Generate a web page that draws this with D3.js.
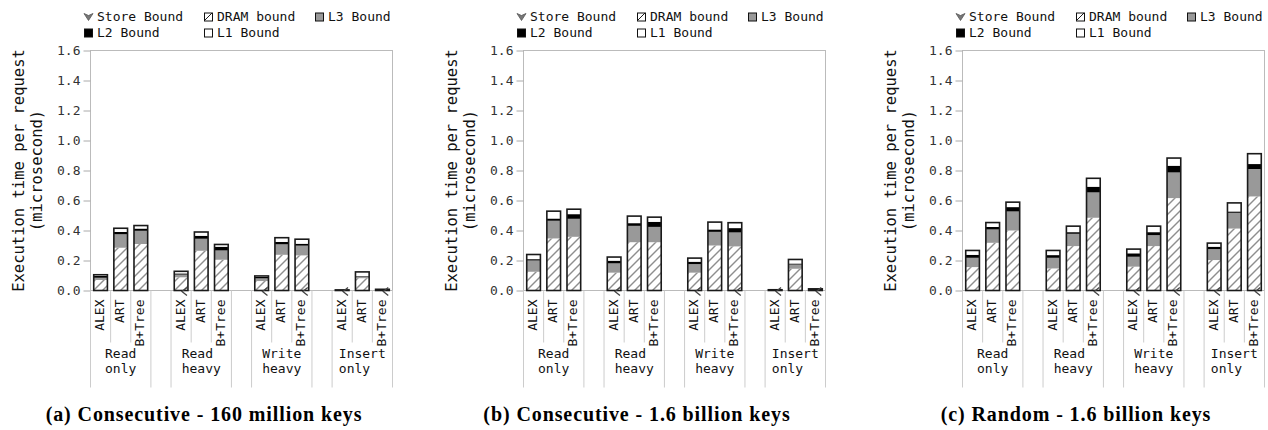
<!DOCTYPE html>
<html>
<head>
<meta charset="utf-8">
<script src="https://cdn.jsdelivr.net/npm/d3@7"></script>
<style>
  html, body { margin: 0; padding: 0; background: #fff; }
  svg { display: block; }
  .mono { font-family: "DejaVu Sans Mono", "Liberation Mono", monospace; }
</style>
</head>
<body>
<svg id="chart" width="1268" height="430"></svg>
<script>
// Workloads (x-axis groups) and index structures (bars in each group)
const workloads = [["Read", "only"], ["Read", "heavy"], ["Write", "heavy"], ["Insert", "only"]];
const indexes = ["ALEX", "ART", "B+Tree"];
const yTicks = [0, 0.2, 0.4, 0.6, 0.8, 1.0, 1.2, 1.4, 1.6];
const legendLabels = ["Store Bound", "DRAM bound", "L3 Bound", "L2 Bound", "L1 Bound"];
const captions = [
  "(a) Consecutive - 160 million keys",
  "(b) Consecutive - 1.6 billion keys",
  "(c) Random - 1.6 billion keys"
];

// Execution time breakdown (microseconds), order: workload x index
// (a) Consecutive - 160 million keys
const storeA = [0, 0, 0, 0.003, 0, 0, 0.003, 0, 0.003, 0.003, 0, 0.003];
const dramA  = [0.070, 0.285, 0.310, 0.085, 0.265, 0.205, 0.060, 0.238, 0.231, 0.000, 0.082, 0.000];
const l3A    = [0.015, 0.090, 0.088, 0.018, 0.080, 0.062, 0.018, 0.070, 0.065, 0.000, 0.010, 0.001];
const l2A    = [0.012, 0.015, 0.015, 0.008, 0.020, 0.025, 0.010, 0.016, 0.013, 0.000, 0.004, 0.004];
const l1A    = [0.008, 0.025, 0.020, 0.014, 0.025, 0.015, 0.006, 0.028, 0.030, 0.001, 0.028, 0.000];
// (b) Consecutive - 1.6 billion keys
const storeB = [0, 0, 0, 0.003, 0, 0, 0.003, 0, 0.003, 0.003, 0, 0.003];
const dramB  = [0.125, 0.347, 0.358, 0.116, 0.322, 0.322, 0.116, 0.300, 0.291, 0.000, 0.145, 0.000];
const l3B    = [0.075, 0.118, 0.120, 0.062, 0.109, 0.102, 0.057, 0.091, 0.093, 0.000, 0.028, 0.002];
const l2B    = [0.009, 0.015, 0.031, 0.018, 0.018, 0.034, 0.016, 0.016, 0.029, 0.000, 0.007, 0.006];
const l1B    = [0.031, 0.049, 0.033, 0.024, 0.047, 0.031, 0.024, 0.049, 0.036, 0.002, 0.027, 0.000];
// (c) Random - 1.6 billion keys
const storeC = [0, 0, 0, 0, 0, 0.003, 0.003, 0, 0.003, 0.003, 0, 0.003];
const dramC  = [0.156, 0.318, 0.400, 0.147, 0.296, 0.482, 0.156, 0.296, 0.613, 0.200, 0.413, 0.624];
const l3C    = [0.062, 0.089, 0.127, 0.071, 0.082, 0.169, 0.066, 0.073, 0.171, 0.073, 0.105, 0.183];
const l2C    = [0.020, 0.017, 0.029, 0.018, 0.011, 0.038, 0.023, 0.020, 0.045, 0.016, 0.009, 0.033];
const l1C    = [0.029, 0.029, 0.033, 0.031, 0.040, 0.056, 0.028, 0.040, 0.051, 0.024, 0.057, 0.069];

const panels = [
  { left: 90,  caption: captions[0], store: storeA, dram: dramA, l3: l3A, l2: l2A, l1: l1A },
  { left: 523, caption: captions[1], store: storeB, dram: dramB, l3: l3B, l2: l2B, l1: l1B },
  { left: 962, caption: captions[2], store: storeC, dram: dramC, l3: l3C, l2: l2C, l1: l1C }
];

const keys = ["store", "dram", "l3", "l2", "l1"];
const fills = { store: "#888", dram: "url(#hatch)", l3: "#999", l2: "#000", l1: "#fff" };

const W = 302, H = 240, TOP = 50.5;
const FS = 13, CHAR_W = FS * 0.602;
const svg = d3.select("#chart");

// Diagonal hatching for the DRAM segment
const defs = svg.append("defs");
const pat = defs.append("pattern").attr("id", "hatch")
  .attr("patternUnits", "userSpaceOnUse").attr("width", 9).attr("height", 9);
pat.append("rect").attr("width", 9).attr("height", 9).attr("fill", "#fff");
pat.append("path").attr("d", "M-2,2 L2,-2 M0,9 L9,0 M7,11 L11,7")
  .attr("stroke", "#111").attr("stroke-width", 0.95);

// Slot domain: three bars per workload, one empty slot between workloads
const slots = [];
workloads.forEach((w, gi) => {
  indexes.forEach(ix => slots.push(gi + ":" + ix));
  if (gi < workloads.length - 1) slots.push("gap" + gi);
});

const x = d3.scaleBand().domain(slots).range([0, W]).paddingInner(0).paddingOuter(0);
const y = d3.scaleLinear().domain([0, 1.6]).range([H, 0]);
const barW = x.bandwidth() * 0.68;
const total = d => keys.reduce((a, k) => a + d[k], 0);

panels.forEach(p => {
  const g = svg.append("g").attr("transform", `translate(${p.left + 0.5},${TOP})`);

  // Legend
  const lg = svg.append("g").attr("class", "mono").attr("transform", `translate(${p.left},0)`);
  const legendPos = [
    { dx: -6, cy: 16.5 }, { dx: 114, cy: 16.5 }, { dx: 225, cy: 16.5 },
    { dx: -6, cy: 32.5 }, { dx: 114, cy: 32.5 }
  ];
  keys.forEach((k, i) => {
    const pos = legendPos[i];
    if (k === "store") {
      lg.append("path")
        .attr("d", `M${pos.dx},${pos.cy - 3} L${pos.dx + 4.5},${pos.cy - 1} L${pos.dx + 9},${pos.cy - 3} L${pos.dx + 4.5},${pos.cy + 4} Z`)
        .attr("fill", "#777").attr("stroke", "#555").attr("stroke-width", 0.8);
    } else {
      lg.append("rect").attr("x", pos.dx + 0.5).attr("y", pos.cy - 3.5)
        .attr("width", 8).attr("height", 8)
        .attr("fill", fills[k]).attr("stroke", "#111").attr("stroke-width", 1);
    }
    lg.append("text").attr("x", pos.dx + 13).attr("y", pos.cy + 4.5)
      .attr("font-size", FS).attr("fill", "#111").text(legendLabels[i]);
  });

  // Plot frame
  g.append("rect").attr("x", 0).attr("y", 0).attr("width", W).attr("height", H)
    .attr("fill", "none").attr("stroke", "#bbb").attr("stroke-width", 1);

  // Y axis
  const ya = g.append("g").attr("class", "mono")
    .call(d3.axisLeft(y).tickValues(yTicks).tickSize(7).tickPadding(3).tickFormat(d3.format(".1f")));
  ya.select(".domain").remove();
  ya.selectAll(".tick line").attr("stroke", "#aaa");
  ya.selectAll(".tick text").attr("font-size", FS).attr("fill", "#333")
    .attr("font-family", "DejaVu Sans Mono, Liberation Mono, monospace");

  // Y axis title
  const yt = g.append("text").attr("class", "mono").attr("font-size", 15.5).attr("fill", "#111")
    .attr("text-anchor", "middle")
    .attr("transform", `translate(-67,${H / 2}) rotate(-90)`);
  yt.append("tspan").attr("x", 0).attr("dy", 0).text("Execution time per request");
  yt.append("tspan").attr("x", 0).attr("dy", 18).text("(microsecond)");

  // Stacked bars
  const rows = [];
  workloads.forEach((w, gi) => indexes.forEach((ix, ii) => {
    const i = gi * indexes.length + ii;
    rows.push({ slot: gi + ":" + ix, name: ix,
      store: p.store[i], dram: p.dram[i], l3: p.l3[i], l2: p.l2[i], l1: p.l1[i] });
  }));
  const series = d3.stack().keys(keys)(rows);

  series.forEach(s => {
    g.append("g").selectAll("rect").data(s).join("rect")
      .attr("x", d => x(d.data.slot) + (x.bandwidth() - barW) / 2)
      .attr("width", barW)
      .attr("y", d => y(d[1]))
      .attr("height", d => Math.max(0, y(d[0]) - y(d[1])))
      .attr("fill", fills[s.key]);
  });

  // Bar outlines
  g.append("g").selectAll("rect").data(rows).join("rect")
    .attr("x", d => x(d.slot) + (x.bandwidth() - barW) / 2)
    .attr("width", barW)
    .attr("y", d => y(total(d)))
    .attr("height", d => y(0) - y(total(d)))
    .attr("fill", "none").attr("stroke", "#1a1a1a").attr("stroke-width", 1.6);

  // Store-bound markers at the bar base
  g.append("g").selectAll("path").data(rows.filter(d => d.store > 0)).join("path")
    .attr("d", d => {
      const bx = x(d.slot) + (x.bandwidth() + barW) / 2 - 1;
      const by = y(0) + 1;
      return `M${bx},${by - 4} L${bx - 5},${by} L${bx},${by + 4}`;
    })
    .attr("fill", "none").attr("stroke", "#444").attr("stroke-width", 1.3);

  // Separator lines below the axis
  const sep = g.append("g").attr("stroke", "#ccc").attr("stroke-width", 1);
  workloads.forEach((w, gi) => {
    const first = x(gi + ":" + indexes[0]);
    const last = x(gi + ":" + indexes[indexes.length - 1]) + x.bandwidth();
    [first, last].forEach(px => sep.append("line")
      .attr("x1", px).attr("x2", px).attr("y1", H).attr("y2", H + 97));
    indexes.slice(1).forEach(ix => {
      const px = x(gi + ":" + ix);
      sep.append("line").attr("x1", px).attr("x2", px).attr("y1", H).attr("y2", H + 52);
    });
  });

  // Index labels (rotated)
  g.append("g").attr("class", "mono").selectAll("text").data(rows).join("text")
    .attr("transform", d => `translate(${x(d.slot) + x.bandwidth() / 2 - 1},${H + 9}) rotate(-90)`)
    .attr("text-anchor", "end").attr("dominant-baseline", "central")
    .attr("font-size", FS).attr("fill", "#111").text(d => d.name);

  // Workload labels: left-aligned lines, block centred under the group
  workloads.forEach((w, gi) => {
    const cx = x(gi + ":" + indexes[1]) + x.bandwidth() / 2;
    const blockW = d3.max(w, s => s.length) * CHAR_W;
    const t = g.append("text").attr("class", "mono").attr("font-size", FS).attr("fill", "#111");
    w.forEach((line, li) => t.append("tspan")
      .attr("x", cx - blockW / 2).attr("y", H + 67 + li * 15).text(line));
  });

  // Caption
  svg.append("text").attr("x", p.left + 114).attr("y", 421)
    .attr("text-anchor", "middle").attr("font-family", "Liberation Serif, serif")
    .attr("font-weight", "bold").attr("font-size", 20).attr("letter-spacing", 0.9)
    .attr("fill", "#000")
    .text(p.caption);
});
</script>
</body>
</html>
